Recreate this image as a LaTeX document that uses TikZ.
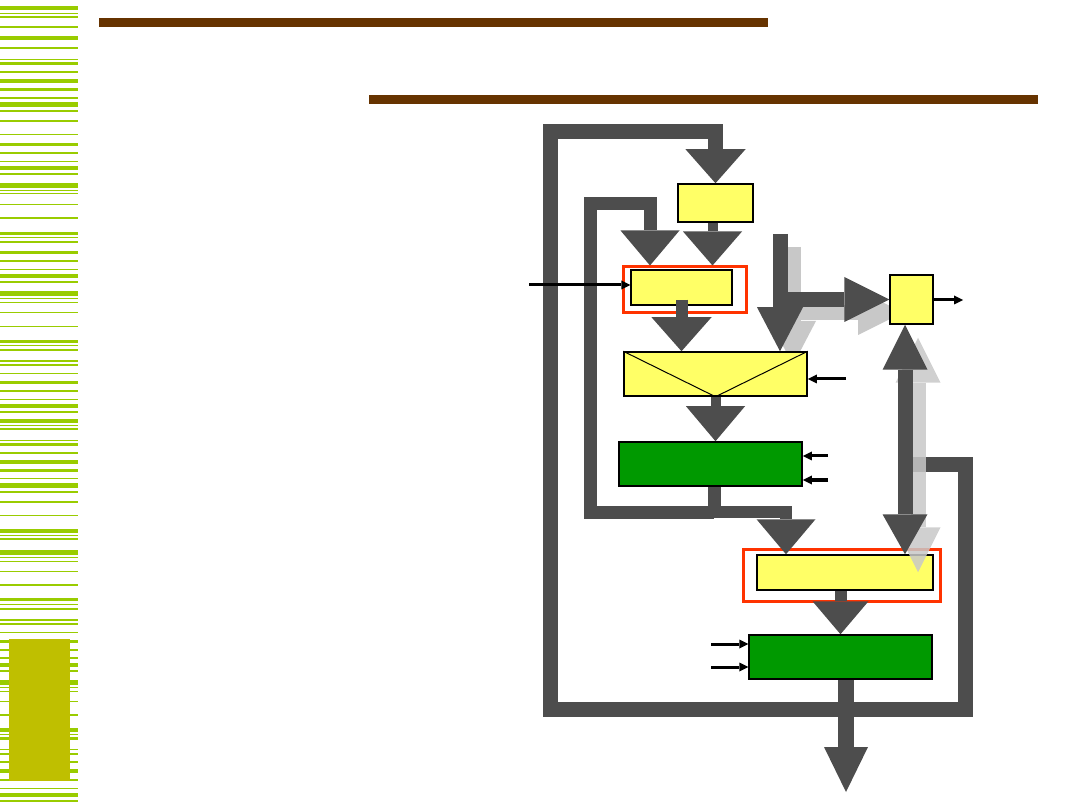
\documentclass[tikz,border=0pt]{standalone}
\usetikzlibrary{arrows.meta, positioning}
\definecolor{stripegreen}{HTML}{99CC00}
\definecolor{barolive}{HTML}{BFBF00}
\definecolor{rulebrown}{HTML}{663300}
\definecolor{boxyellow}{HTML}{FFFF66}
\definecolor{boxgreen}{HTML}{009900}
\definecolor{framered}{HTML}{FF3300}
\definecolor{flowgray}{HTML}{4D4D4D}
\definecolor{shadegray}{HTML}{C8C8C8}
\tikzset{
  blk/.style={rectangle, draw, line width=1.5pt, fill=boxyellow, inner sep=0pt},
  grn/.style={blk, fill=boxgreen},
  frm/.style={rectangle, draw=framered, line width=3pt, inner sep=0pt},
  flow/.style={draw=flowgray, line width=15pt},
  shade/.style={draw=shadegray, line width=15pt},
  sig/.style={arrows={-Triangle[length=9pt,width=9pt,line width=0pt]}, line width=3pt},
  bighead/.style 2 args={arrows={-Triangle[width=#1,length=#2,line width=0pt]}},
  dblhead/.style n args={4}{arrows={Triangle[width=#1,length=#2,line width=0pt]-Triangle[width=#3,length=#4,line width=0pt]}},
}
\begin{document}
\begin{tikzpicture}[x=1pt, y=-1pt]
  \useasboundingbox (0,0) rectangle (1080,810);
  % Side stripes
  \foreach \y/\h in {6/4, 13/1, 16/2, 26/2, 36/4, 47/2, 59/1, 62/3, 71/2, 79/4, 88/3, 97/2,
      102/5, 110/2, 120/2, 134/1, 143/3, 152/2, 161/1, 166/4, 173/2, 183/5, 190/1, 193/1,
      204/1, 217/2, 232/3, 237/1, 241/2, 251/3, 260/2, 269/1, 274/4, 281/2, 291/5, 298/1,
      302/1, 312/1, 326/1, 340/3, 345/1, 349/2, 360/2, 364/2, 373/1, 381/3, 390/2, 399/1,
      404/4, 411/2, 419/4, 425/1, 428/2, 440/1, 443/3, 452/2, 460/4, 469/3, 478/1, 483/5,
      491/2, 501/2, 515/1, 529/4, 535/1, 538/2, 550/5, 557/1, 561/1, 571/1, 584/2, 598/3,
      604/1, 608/2, 619/2, 623/2, 632/1, 640/3, 649/2, 657/2, 663/4, 670/2, 680/5, 687/1,
      691/1, 701/1, 714/2, 728/4, 734/1, 737/3, 749/1, 753/2, 761/2, 769/4, 779/2, 788/1,
      793/4, 800/2}
    \fill[stripegreen] (0,\y) rectangle (78,\y+\h);
  \fill[barolive] (9,639) rectangle (70,781);
  % Title rules
  \fill[rulebrown] (99,18) rectangle (768,27);
  \fill[rulebrown] (369,95) rectangle (1038,104);

  % Junction points
  \coordinate (ltop) at (780,234);
  \coordinate (lmid) at (780,299.5);
  \coordinate (dbl) at (905,465);
  \coordinate (loopR) at (965,709);
  \coordinate (loopL) at (550,132);
  \coordinate (jn) at (714,512);
  \coordinate (loopI) at (590,204);
  \coordinate (outend) at (846,792);

  % Shadow of the L arrow
  \begin{scope}[transform canvas={shift={(13pt,-13pt)}}]
    \draw[shade, bighead={46pt}{44pt}] (ltop) -- (ltop |- 0,352);
    \draw[shade, bighead={45pt}{45pt}] (lmid) -- (890,299.5);
  \end{scope}

  % Boxes
  \node[blk, minimum width=75pt, minimum height=38pt] (feed) at (715.5,203) {};
  \node[frm, minimum width=123pt, minimum height=46pt] (pickframe) at (684.5,290) {};
  \node[blk, minimum width=101pt, minimum height=35pt] (pick) at (681.5,287.5) {};
  \node[blk, minimum width=183pt, minimum height=44pt] (merge) at (715.5,374) {};
  \draw[line width=1pt] (merge.north west) -- (merge.south) -- (merge.north east);
  \node[grn, minimum width=183pt, minimum height=44pt] (stageone) at (710.5,464) {};
  \node[frm, minimum width=197pt, minimum height=52pt] (pickframe2) at (841.5,575) {};
  \node[blk, minimum width=176pt, minimum height=35pt] (pick2) at (845,572.5) {};
  \node[grn, minimum width=183pt, minimum height=44pt] (stagetwo) at (840.5,657) {};
  \node[blk, minimum width=43pt, minimum height=49pt] (side) at (911.5,299.5) {};

  % Outer loop
  \draw[flow, bighead={60pt}{34pt}] (dbl) -| (loopR) -| (loopL) -| (feed.north);
  \draw[flow, line width=16pt, bighead={44pt}{45pt}] (stagetwo.south -| outend) -- (outend);

  % Shadow of the double arrow
  \begin{scope}[transform canvas={shift={(13pt,-13pt)}}]
    \draw[shade, opacity=0.85, dblhead={45pt}{45pt}{45pt}{45pt}]
      (side.south -| dbl) -- ([yshift=-5pt]pick2.north -| dbl);
  \end{scope}
  \draw[flow, dblhead={45pt}{45pt}{45pt}{40pt}] (side.south -| dbl) -- (pick2.north -| dbl);

  % Inner loop
  \draw[flow, line width=13pt] (stageone.south -| jn) -- (jn);
  \draw[flow, line width=13pt, bighead={59pt}{35pt}] (jn) -| (loopI) -| ([xshift=-34.5pt]pickframe.north);
  \draw[flow, line width=12pt, bighead={59pt}{35pt}] (jn) -| ([xshift=-59pt]pick2.north);

  % Straight flows
  \draw[flow, line width=10pt, bighead={59pt}{34pt}] ([xshift=-3pt]feed.south) -- ([xshift=-3pt]feed.south |- pickframe.north);
  \draw[flow, line width=12pt, bighead={60pt}{34pt}] ([yshift=6pt]pick.south) -- (pick.south |- merge.north);
  \draw[flow, line width=10pt, bighead={59pt}{35pt}] (merge.south) -- (merge.south |- stageone.north);
  \draw[flow, line width=12pt, bighead={56pt}{33pt}] (pick2.south -| stagetwo.north) -- (stagetwo.north);

  % L arrow
  \draw[flow, bighead={46pt}{44pt}] (ltop) -- (ltop |- merge.north);
  \draw[flow, bighead={45pt}{45pt}] (lmid) -- (lmid -| side.west);

  % Thin inputs and output
  \coordinate (inpick) at (529,285);
  \coordinate (inmerge) at (846,379);
  \coordinate (inone1) at (828,456);
  \coordinate (inone2) at (828,480);
  \coordinate (intwo1) at (711,644);
  \coordinate (intwo2) at (711,667);
  \coordinate (outside) at (963,300);
  \draw[sig] (inpick) -- (inpick -| pick.west);
  \draw[sig] (inmerge) -- (inmerge -| merge.east);
  \draw[sig] (inone1) -- (inone1 -| stageone.east);
  \draw[sig] (inone2) -- (inone2 -| stageone.east);
  \draw[sig] (intwo1) -- (intwo1 -| stagetwo.west);
  \draw[sig] (intwo2) -- (intwo2 -| stagetwo.west);
  \draw[sig] (side.east |- outside) -- (outside);
\end{tikzpicture}
\end{document}
